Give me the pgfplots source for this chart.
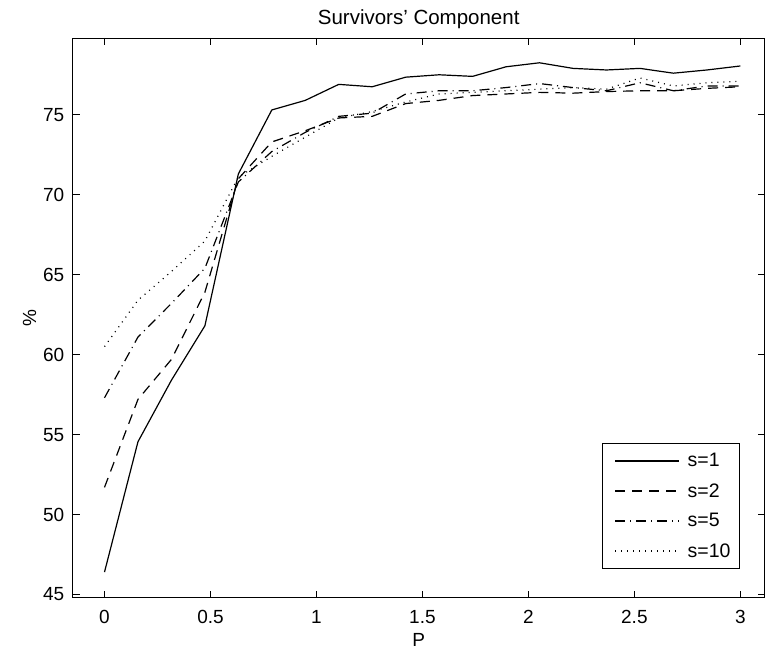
\documentclass[border=0pt]{standalone}
\usepackage{pgfplots}
\pgfplotsset{compat=1.18}
\usepackage{fontspec}
\setmainfont{Liberation Sans}
\begin{document}
\begin{tikzpicture}
\useasboundingbox (0,0) rectangle (766bp,651bp);
\begin{axis}[
  at={(72.7bp,53.3bp)}, anchor=south west,
  scale only axis, width=692bp, height=559.7bp,
  xmin=-0.15, xmax=3.115, ymin=44.8, ymax=79.8,
  xtick={0,0.5,1,1.5,2,2.5,3},
  xticklabels={0,0.5,1,1.5,2,2.5,3},
  ytick={45,50,55,60,65,70,75},
  tick align=inside, tick pos=both, major tick length=7bp,
  /pgf/number format/assume math mode=true,
  tick label style={font=\fontsize{19bp}{22bp}\selectfont},
  xticklabel style={yshift=-9bp},
  yticklabel style={xshift=-5bp},
  label style={font=\fontsize{19bp}{22bp}\selectfont},
  title style={font=\fontsize{20.5bp}{24bp}\selectfont, yshift=0bp},
  title={Survivors’ Component},
  xlabel={P}, ylabel={\%},
  xlabel style={yshift=-3bp},
  ylabel style={yshift=0bp},
  axis line style={line width=0.9bp},
  every tick/.style={line width=0.7bp, black},
  legend style={at={(0.9643,0.0513)}, anchor=south east, draw=black, line width=0.9bp,
    font=\fontsize{19.5bp}{22bp}\selectfont, inner xsep=7bp, inner ysep=8bp,
    row sep=11bp, cells={anchor=west}},
  legend image code/.code={\path (-5bp,0bp) (70bp,0bp); \draw[#1] (0bp,0bp) -- (64bp,0bp);},
  every axis plot/.append style={line width=1.2bp, black},
]
\addplot[solid] coordinates {(0,46.4) (0.1579,54.55) (0.3158,58.4) (0.4737,61.8) (0.6316,71.3) (0.7895,75.3) (0.9474,75.9) (1.1053,76.9) (1.2632,76.75) (1.4211,77.35) (1.5789,77.5) (1.7368,77.4) (1.8947,78.0) (2.0526,78.25) (2.2105,77.9) (2.3684,77.8) (2.5263,77.9) (2.6842,77.6) (2.8421,77.8) (3,78.05)};
\addlegendentry{s=1}
\addplot[dash pattern=on 10bp off 7bp] coordinates {(0,51.7) (0.1579,57.2) (0.3158,59.7) (0.4737,63.9) (0.6316,71.0) (0.7895,73.3) (0.9474,74.0) (1.1053,74.8) (1.2632,74.9) (1.4211,75.7) (1.5789,75.9) (1.7368,76.2) (1.8947,76.3) (2.0526,76.4) (2.2105,76.35) (2.3684,76.45) (2.5263,76.5) (2.6842,76.5) (2.8421,76.65) (3,76.75)};
\addlegendentry{s=2}
\addplot[dash pattern=on 10bp off 5bp on 1bp off 5bp] coordinates {(0,57.3) (0.1579,61.1) (0.3158,63.2) (0.4737,65.4) (0.6316,70.8) (0.7895,72.7) (0.9474,73.9) (1.1053,74.9) (1.2632,75.1) (1.4211,76.3) (1.5789,76.5) (1.7368,76.5) (1.8947,76.7) (2.0526,76.95) (2.2105,76.7) (2.3684,76.5) (2.5263,77.0) (2.6842,76.5) (2.8421,76.8) (3,76.8)};
\addlegendentry{s=5}
\addplot[dash pattern=on 1bp off 5bp] coordinates {(0,60.5) (0.1579,63.4) (0.3158,65.2) (0.4737,67.1) (0.6316,71.1) (0.7895,72.4) (0.9474,73.6) (1.1053,74.8) (1.2632,75.2) (1.4211,75.8) (1.5789,76.3) (1.7368,76.4) (1.8947,76.5) (2.0526,76.6) (2.2105,76.7) (2.3684,76.6) (2.5263,77.3) (2.6842,76.8) (2.8421,77.0) (3,77.1)};
\addlegendentry{s=10}
\end{axis}
\end{tikzpicture}
\end{document}
